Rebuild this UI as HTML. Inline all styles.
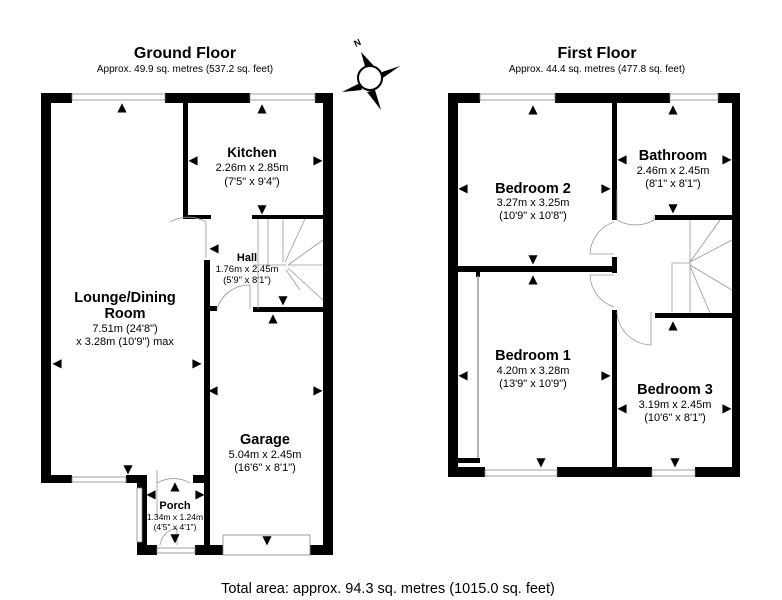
<!DOCTYPE html>
<html><head><meta charset="utf-8"><style>
html,body{margin:0;padding:0;background:#fff}
svg{display:block}
text{font-family:"Liberation Sans",Arial,sans-serif;fill:#000}
.b{font-weight:bold}
.ar{font-family:"DejaVu Sans",sans-serif;font-size:12px;text-anchor:middle;dominant-baseline:central}
.st{stroke:#999;stroke-width:0.8;fill:none}
.win{fill:#fff;stroke:#888;stroke-width:0.8}
</style></head><body>
<svg width="782" height="600" viewBox="0 0 782 600" xmlns="http://www.w3.org/2000/svg">
<rect width="782" height="600" fill="#fff"/>
<text x="185" y="58" font-size="16" class="b" text-anchor="middle">Ground Floor</text>
<text x="185" y="72" font-size="10" text-anchor="middle">Approx. 49.9 sq. metres (537.2 sq. feet)</text>
<text x="597" y="58" font-size="16" class="b" text-anchor="middle">First Floor</text>
<text x="597" y="72" font-size="10" text-anchor="middle">Approx. 44.4 sq. metres (477.8 sq. feet)</text>
<text x="388" y="593" font-size="14.5" text-anchor="middle">Total area: approx. 94.3 sq. metres (1015.0 sq. feet)</text>
<g>
<polygon points="361,52 366,70 374,66" fill="#000"/>
<polygon points="400,66 382,72 380,80" fill="#000"/>
<polygon points="381,110 375,90 367,92" fill="#000"/>
<polygon points="342,92 360,83 362,90" fill="#000"/>
<circle cx="370" cy="78" r="12" fill="#fff" stroke="#000" stroke-width="2"/>
<text x="357" y="46" font-size="9" class="b" text-anchor="middle" transform="rotate(-25 357 42)">N</text>
</g>
<g fill="#000">
<rect x="41" y="93" width="10" height="390"/>
<rect x="41" y="93" width="31" height="10"/>
<rect x="165" y="93" width="85" height="10"/>
<rect x="315" y="93" width="18" height="10"/>
<rect x="323" y="93" width="10" height="462"/>
<rect x="183" y="93" width="5" height="125"/>
<rect x="183" y="215" width="28" height="4"/>
<rect x="252" y="215" width="71" height="4"/>
<rect x="204" y="260" width="6" height="295"/>
<rect x="204" y="306" width="13" height="5"/>
<rect x="253" y="307" width="70" height="5"/>
<rect x="41" y="475" width="31" height="8"/>
<rect x="126" y="475" width="21" height="8"/>
<rect x="137" y="475" width="10" height="80"/>
<rect x="193" y="475" width="17" height="8"/>
<rect x="137" y="545" width="20" height="10"/>
<rect x="195" y="545" width="15" height="10"/>
<rect x="204" y="545" width="19" height="10"/>
<rect x="310" y="545" width="23" height="10"/>
</g>
<rect class="win" x="72" y="94" width="93" height="6"/>
<rect class="win" x="250" y="94" width="65" height="6"/>
<rect class="win" x="72" y="477" width="54" height="5"/>
<rect class="win" x="137" y="488" width="5" height="54"/>
<rect class="win" x="157" y="548" width="38" height="5"/>
<rect class="win" x="223" y="535" width="87" height="20"/>
<path class="st" d="M206,222 L206,258 M206,222 A36,36 0 0 0 170,222" />
<path class="st" d="M157,483 L157,517 M190,483 A33,33 0 0 0 157,483 L157,470 M157,483"/>
<path class="st" d="M160,545 A20,20 0 0 1 177,528 L177,545"/>
<path class="st" d="M217,309 A34,34 0 0 1 250,285 L250,309"/>
<path class="st" d="M258,219 L258,309 M268,219 L268,265 M283,219 L283,262 M305,219 L285,262 M323,240 L288,265 M288,265 L323,265 M288,268 L323,300 M286,270 L300,290 M253,265 L286,265"/>
<g fill="#000">
<rect x="448" y="93" width="10" height="384"/>
<rect x="448" y="93" width="32" height="10"/>
<rect x="555" y="93" width="115" height="10"/>
<rect x="718" y="93" width="22" height="10"/>
<rect x="732" y="93" width="8" height="384"/>
<rect x="448" y="467" width="37" height="10"/>
<rect x="557" y="467" width="95" height="10"/>
<rect x="695" y="467" width="45" height="10"/>
<rect x="612" y="93" width="5" height="127"/>
<rect x="612" y="257" width="5" height="16"/>
<rect x="612" y="310" width="5" height="167"/>
<rect x="458" y="266" width="159" height="6"/>
<rect x="655" y="215" width="77" height="5"/>
<rect x="655" y="313" width="77" height="5"/>
<rect x="458" y="458" width="22" height="5"/>
<rect x="476" y="272" width="4" height="5"/>
</g>
<rect class="win" x="480" y="94" width="75" height="6"/>
<rect class="win" x="670" y="94" width="48" height="6"/>
<rect class="win" x="485" y="470" width="72" height="6"/>
<rect class="win" x="652" y="470" width="43" height="6"/>
<line x1="478" y1="276" x2="478" y2="458" stroke="#999" stroke-width="1.5"/>
<path class="st" d="M617,220 A37,37 0 0 0 654,220 L654,215 M617,220 L617,190"/>
<path class="st" d="M614,222 A35,35 0 0 0 590,254 L614,254"/>
<path class="st" d="M614,307 A35,35 0 0 1 590,275 L614,275"/>
<path class="st" d="M617,312 A35,35 0 0 0 651,345 L651,312"/>
<path class="st" d="M672,263 L672,313 M690,263 L690,313 M672,263 L690,263 M690,220 L690,313 M690,262 L732,240 M690,262 L720,220 M690,265 L732,290 M690,266 L710,313"/>
<g text-anchor="middle">
<text x="252" y="157" font-size="13.5" class="b">Kitchen</text>
<text x="252" y="171" font-size="11">2.26m x 2.85m</text>
<text x="252" y="185" font-size="11">(7'5" x 9'4")</text>
<text x="247" y="261" font-size="11" class="b">Hall</text>
<text x="247" y="272" font-size="9.5">1.76m x 2.45m</text>
<text x="247" y="283" font-size="9.5">(5'9" x 8'1")</text>
<text x="125" y="302" font-size="14.5" class="b">Lounge/Dining</text>
<text x="125" y="318" font-size="14.5" class="b">Room</text>
<text x="125" y="332" font-size="11">7.51m (24'8")</text>
<text x="125" y="345" font-size="11">x 3.28m (10'9") max</text>
<text x="265" y="444" font-size="14.5" class="b">Garage</text>
<text x="265" y="458" font-size="11">5.04m x 2.45m</text>
<text x="265" y="471" font-size="11">(16'6" x 8'1")</text>
<text x="175" y="509" font-size="11" class="b">Porch</text>
<text x="175" y="520" font-size="8.5">1.34m x 1.24m</text>
<text x="175" y="530" font-size="8.5">(4'5" x 4'1")</text>
<text x="533" y="193" font-size="14.5" class="b">Bedroom 2</text>
<text x="533" y="206" font-size="11">3.27m x 3.25m</text>
<text x="533" y="219" font-size="11">(10'9" x 10'8")</text>
<text x="673" y="160" font-size="14.5" class="b">Bathroom</text>
<text x="673" y="174" font-size="11">2.46m x 2.45m</text>
<text x="673" y="187" font-size="11">(8'1" x 8'1")</text>
<text x="533" y="360" font-size="14.5" class="b">Bedroom 1</text>
<text x="533" y="374" font-size="11">4.20m x 3.28m</text>
<text x="533" y="387" font-size="11">(13'9" x 10'9")</text>
<text x="675" y="394" font-size="14.5" class="b">Bedroom 3</text>
<text x="675" y="408" font-size="11">3.19m x 2.45m</text>
<text x="675" y="421" font-size="11">(10'6" x 8'1")</text>
</g>
<g>
<text x="122" y="107" class="ar">▲</text><text x="262" y="108" class="ar">▲</text>
<text x="193" y="160" class="ar">◀</text><text x="318" y="160" class="ar">▶</text>
<text x="262" y="209" class="ar">▼</text><text x="214" y="248" class="ar">◀</text>
<text x="283" y="300" class="ar">▼</text><text x="273" y="318" class="ar">▲</text>
<text x="57" y="363" class="ar">◀</text><text x="197" y="363" class="ar">▶</text>
<text x="213" y="390" class="ar">◀</text><text x="318" y="390" class="ar">▶</text>
<text x="128" y="469" class="ar">▼</text><text x="175" y="486" class="ar">▲</text>
<text x="151" y="494" class="ar">◀</text><text x="200" y="494" class="ar">▶</text>
<text x="175" y="538" class="ar">▼</text><text x="267" y="540" class="ar">▼</text>
<text x="533" y="109" class="ar">▲</text><text x="463" y="188" class="ar">◀</text>
<text x="606" y="188" class="ar">▶</text><text x="673" y="109" class="ar">▲</text>
<text x="622" y="159" class="ar">◀</text><text x="727" y="159" class="ar">▶</text>
<text x="673" y="208" class="ar">▼</text><text x="533" y="259" class="ar">▼</text>
<text x="533" y="279" class="ar">▲</text><text x="673" y="325" class="ar">▲</text>
<text x="463" y="375" class="ar">◀</text><text x="606" y="375" class="ar">▶</text>
<text x="622" y="408" class="ar">◀</text><text x="727" y="408" class="ar">▶</text>
<text x="541" y="462" class="ar">▼</text><text x="675" y="462" class="ar">▼</text>
</g>
</svg>
</body></html>
